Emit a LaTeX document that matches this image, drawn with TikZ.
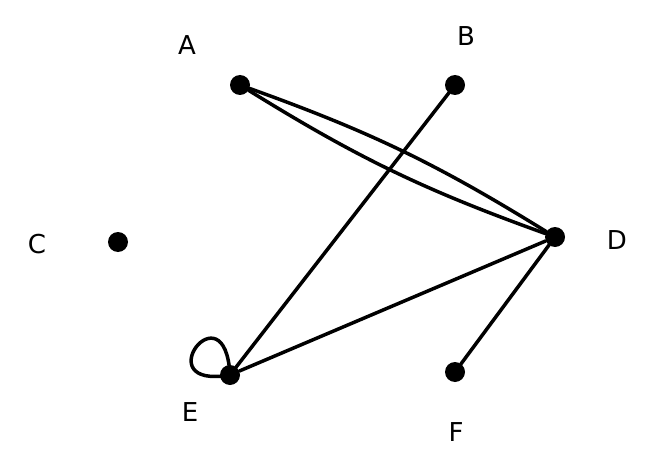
\documentclass[tikz,border=0pt]{standalone}
\usepackage{fontspec}
\setmainfont{DejaVu Sans}
\begin{document}
\begin{tikzpicture}[x=1pt,y=-1pt,
  vtx/.style={circle,fill=black,inner sep=0pt,minimum size=20pt},
  lbl/.style={font=\fontsize{26}{26}\selectfont},
  edg/.style={line width=3.5pt,line cap=round}]
\useasboundingbox (0,0) rectangle (645,476);
\node[vtx] (A) at (240,85) {};
\node[vtx] (B) at (455,85) {};
\node[vtx] (C) at (118,242) {};
\node[vtx] (D) at (555,237) {};
\node[vtx] (E) at (230,375) {};
\node[vtx] (F) at (455,372) {};
\node[lbl] (lA) at (187,45) {A};
\node[lbl] (lB) at (466,36) {B};
\node[lbl] (lC) at (37,244) {C};
\node[lbl] (lD) at (617,240) {D};
\node[lbl] (lE) at (190,412) {E};
\node[lbl] (lF) at (456,432) {F};
\draw[edg] (A) to[bend left=6] (D);
\draw[edg] (A) to[bend right=6] (D);
\draw[edg] (B) -- (E);
\draw[edg] (E) -- (D);
\draw[edg] (D) -- (F);
\draw[edg] (E.center) .. controls +(-85,15) and +(-5,-90) .. (E.center);
\end{tikzpicture}
\end{document}
